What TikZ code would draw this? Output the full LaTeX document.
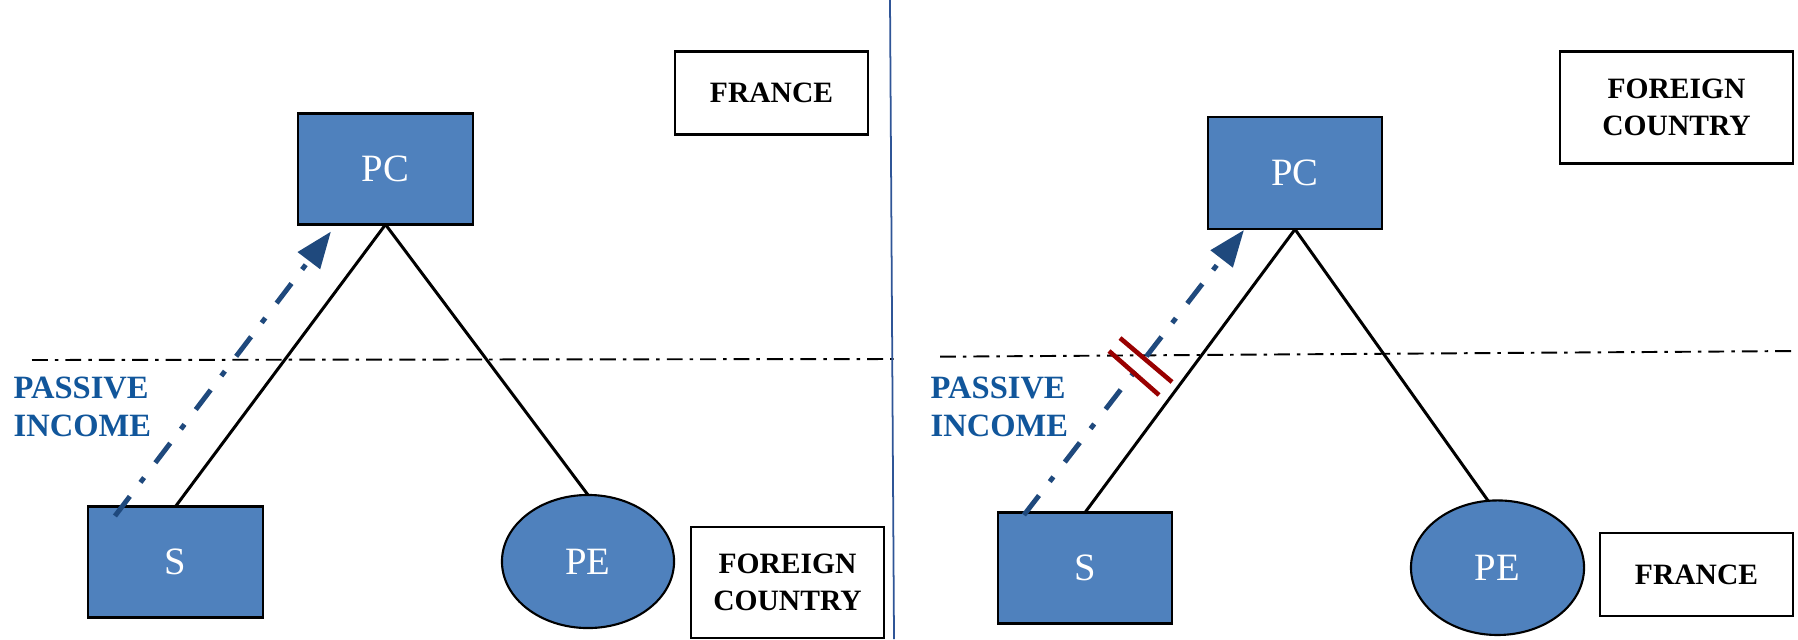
\documentclass[tikz,border=0pt]{standalone}
\usepackage{fontspec}
\usepackage{xcolor}
\usetikzlibrary{arrows.meta,shapes.geometric,calc}
\setmainfont{Liberation Serif}
\definecolor{boxblue}{RGB}{79,129,189}
\definecolor{flowblue}{RGB}{31,73,125}
\definecolor{textblue}{RGB}{17,86,155}
\definecolor{barred}{RGB}{153,0,0}
\definecolor{divblue}{RGB}{47,85,151}

\begin{document}
\begin{tikzpicture}[x=0.01cm,y=-0.01cm,
  entity/.style={draw=black,line width=0.6pt,fill=boxblue,text=white,inner sep=0pt,outer sep=0pt,
    font=\fontsize{11}{13}\selectfont},
  company/.style={entity,rectangle,minimum width=1.75cm,minimum height=1.11cm},
  estab/.style={entity,ellipse,minimum width=1.72cm,minimum height=1.33cm},
  country/.style={draw=black,line width=0.7pt,fill=white,align=center,inner sep=0pt,outer sep=0pt,
    font=\bfseries\fontsize{8.4}{10.4}\selectfont},
  income/.style={text=textblue,align=left,anchor=west,inner sep=0pt,
    font=\bfseries\fontsize{9.25}{10.8}\selectfont},
  tie/.style={black,line width=0.85pt},
  flow/.style={draw=flowblue,line width=1.4pt,dash pattern=on 7pt off 5pt on 1.7pt off 5.3pt,
    -{Triangle[length=10.4pt,width=7.7pt]}},
  frontier/.style={black,line width=0.55pt,dash pattern=on 4.5pt off 2pt on 1pt off 2pt},
  blocked/.style={barred,line width=1.3pt}]
\useasboundingbox (0,0) rectangle (1798,639);

%%%%%left panel starts here
\node[company] (pcL) at (385.5,169) {PC};
\node[company] (sL) at (175.5,562) {S};
\node[estab] (peL) at (588,561.5) {PE};
\node[country,minimum width=1.93cm,minimum height=0.83cm] (frL) at (771.5,93) {FRANCE};
\node[country,minimum width=1.93cm,minimum height=1.11cm] (fcL) at (787.5,582.5) {FOREIGN\\COUNTRY};
\node[income] (piL) at (13,407) {PASSIVE\\INCOME};

\draw[frontier] (32,360) -- (897,359);
\draw[tie] (pcL.south) -- (sL.north);
\draw[tie] (pcL.south) -- (peL.north);
\coordinate (fromL) at ($(sL.north west)+(27,9.5)$);
\coordinate (toL) at ($(pcL.south west)+(33,7)$);
\draw[flow] (fromL) -- (toL);
%%%%%left panel ends here

\draw[divblue,line width=0.5pt] (890,0) -- (894,639);

%%%%%right panel starts here
\node[company,minimum width=1.74cm,minimum height=1.125cm] (pcR) at (1295,173) {PC};
\node[company,minimum width=1.74cm] (sR) at (1085,568) {S};
\node[estab,minimum width=1.73cm,minimum height=1.345cm] (peR) at (1497.5,567.7) {PE};
\node[country,minimum width=2.33cm,minimum height=1.12cm] (fcR) at (1676.5,107.6) {FOREIGN\\COUNTRY};
\node[country,minimum width=1.93cm,minimum height=0.83cm] (frR) at (1696.5,574.5) {FRANCE};
\node[income] (piR) at (930,407) {PASSIVE\\INCOME};

\draw[frontier] (940,356.7) -- (1798,351);
\draw[tie] (pcR.south) -- (sR.north);
\draw[tie] (pcR.south) -- (peR.98);
\coordinate (fromR) at ($(sR.north west)+(26,2.5)$);
\coordinate (toR) at ($(pcR.south west)+(36,0.7)$);
\draw[flow] (fromR) -- (toR);
\draw[blocked] (1120,338) -- (1172,382);
\draw[blocked] (1109,351) -- (1159,395);
%%%%%right panel ends here
\end{tikzpicture}
\end{document}
